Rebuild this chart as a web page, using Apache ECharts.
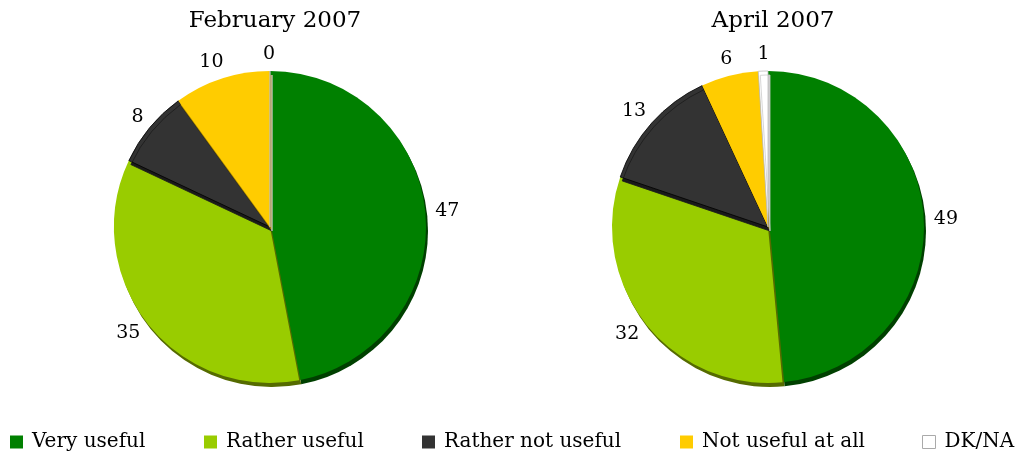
<!DOCTYPE html>
<html><head><meta charset="utf-8">
<script src="https://cdn.jsdelivr.net/npm/echarts@6/dist/echarts.min.js"></script>
<style>html,body{margin:0;padding:0;background:#fff}#c{width:1026px;height:459px}</style>
</head><body><div id="c"></div>
<script>
const categories = ["Very useful", "Rather useful", "Rather not useful", "Not useful at all", "DK/NA"];
const titles = ["February 2007", "April 2007"];
const feb2007 = [47, 35, 8, 10, 0];
const apr2007 = [49, 32, 13, 6, 1];
const colors = ["#008000", "#99CC00", "#333333", "#FFCC00", "#FFFFFF"];
const shadowColors = ["#004000", "#556b00", "#1a1a1a", "#a08000", "#cccccc"];

const FONT = "DejaVu Serif";
const chart = echarts.init(document.getElementById('c'));

function pieData(vals) {
  return vals.map((v, i) => ({
    name: categories[i], value: v,
    itemStyle: {
      color: colors[i],
      shadowColor: shadowColors[i], shadowOffsetX: 2, shadowOffsetY: 4, shadowBlur: 0,
      borderColor: i === 4 ? '#bbbbbb' : (i === 2 ? '#000' : 'transparent'),
      borderWidth: (i === 2 || i === 4) ? 0.8 : 0
    }
  }));
}
const centers = [[270, 227], [768, 227]];
const legendLefts = [10, 204, 422, 680, 922];

chart.setOption({
  animation: false,
  textStyle: { fontFamily: FONT },
  title: titles.map((t, i) => ({
    text: t, left: centers[i][0], top: 5, textAlign: 'center',
    textStyle: { fontFamily: FONT, fontWeight: 'normal', fontSize: 23, color: '#000' }
  })),
  legend: categories.map((c, i) => ({
    data: [{ name: c, itemStyle: i === 4 ? { color: '#fff', borderColor: '#aaa', borderWidth: 1 } : { color: colors[i], borderWidth: 0 } }],
    left: legendLefts[i], top: 432, padding: 0, itemWidth: 13, itemHeight: 13, icon: 'rect',
    itemGap: 6, selectedMode: false,
    textStyle: { fontFamily: FONT, fontSize: 20, color: '#000', padding: [0, 0, 0, 4] }
  })),
  series: [feb2007, apr2007].map((vals, i) => ({
    type: 'pie', center: centers[i], radius: 156, startAngle: 90, clockwise: true,
    stillShowZeroSum: true, avoidLabelOverlap: false,
    label: { show: true, position: 'outside', formatter: '{c}', fontFamily: FONT, fontSize: 19, color: '#000', distanceToLabelLine: -7 },
    labelLine: { show: false, length: 17, length2: 0 },
    emphasis: { disabled: true },
    data: pieData(vals)
  }))
});
</script></body></html>
